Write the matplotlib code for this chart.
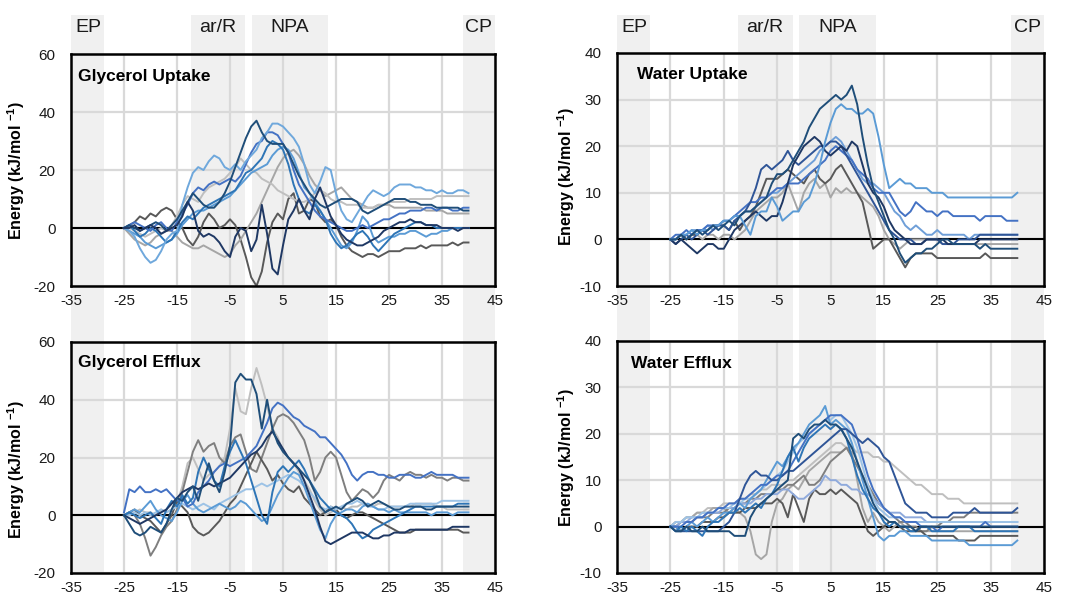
import matplotlib
matplotlib.use("Agg")
import matplotlib.pyplot as plt
import matplotlib.transforms as mtransforms
from matplotlib.patches import Rectangle

# Reaction coordinate (Å) shared by all traces
positions = list(range(-25, 41))

# Channel regions along the pore axis
region_names = ["EP", "ar/R", "NPA", "CP"]
region_spans = [(-35, -28.8), (-12.4, -2.1), (-0.9, 13.5), (38.9, 45)]

# ---------------- Glycerol uptake ----------------
gu_navy = [0, 0, 1, -1, 0, 1, 0, -2, -1, 0, 1,
           4, 9, 6, -1, -3, -2, -3, -5, -8, -10, -3,
           0, -1, -8, -4, 8, -2, -14, -16, -6, 3, 6,
           10, 6, 3, 10, 14, 9, 4, 1, -2, -4, -5,
           -6, -6, -5, -4, -3, -1, 0, 1, 2, 2, 3,
           2, 2, 1, 1, 1, 0, 0, 0, -1, 0, 0]
gu_dkgray = [0, 1, 2, 4, 3, 5, 4, 6, 7, 6, 3,
             0, -4, -6, -3, 2, 5, 3, 0, 1, 3, 1,
             -4, -10, -17, -20, -15, -5, 2, 5, 3, 10, 12,
             5, 6, 10, 9, 4, 2, 3, 1, -3, -6, -8,
             -9, -10, -9, -9, -10, -9, -8, -8, -8, -7, -7,
             -7, -6, -7, -6, -6, -6, -6, -5, -6, -5, -5]
gu_gray = [0, -2, -4, -5, -6, -5, -3, -2, -1, -1, -3,
           -5, -6, -7, -7, -6, -7, -8, -9, -10, -9, -6,
           -4, -1, 2, 5, 9, 13, 17, 21, 24, 26, 27,
           25, 22, 18, 15, 13, 11, 12, 13, 14, 12, 10,
           9, 8, 7, 7, 8, 8, 8, 7, 7, 7, 7,
           7, 7, 6, 6, 6, 6, 5, 5, 5, 5, 5]
gu_ltgray = [0, 0, -1, -2, -3, -2, -1, 0, -1, 1, 4,
             8, 11, 10, 9, 12, 14, 15, 16, 17, 19, 21,
             24, 22, 20, 19, 17, 16, 15, 13, 12, 11, 10,
             9, 9, 10, 12, 13, 12, 10, 9, 9, 8, 8,
             8, 7, 7, 7, 8, 8, 9, 9, 9, 9, 10,
             10, 10, 10, 10, 11, 11, 11, 11, 11, 11, 11]
gu_ltblue = [0, -1, -3, -7, -10, -12, -11, -8, -4, -2, -1,
             8, 14, 19, 21, 20, 23, 25, 24, 21, 20, 22,
             20, 23, 25, 27, 31, 33, 36, 36, 35, 33, 31,
             28, 22, 15, 12, 16, 21, 20, 12, 6, 3, 2,
             5, 8, 11, 13, 12, 11, 12, 14, 15, 15, 15,
             14, 14, 13, 13, 12, 13, 12, 12, 13, 13, 12]
gu_dkblue = [0, 1, 0, -1, 0, 1, 2, 1, -1, 1, 3,
             6, 9, 12, 10, 8, 7, 7, 9, 12, 16, 21,
             26, 31, 35, 37, 33, 30, 29, 29, 29, 26, 22,
             18, 15, 12, 10, 8, 7, 8, 9, 10, 10, 10,
             9, 6, 5, 6, 7, 8, 9, 10, 10, 10, 9,
             9, 8, 8, 8, 7, 7, 7, 7, 7, 6, 6]
gu_blue = [0, 1, 2, 1, 0, -1, 1, 2, 0, -1, 2,
           5, 8, 12, 14, 13, 15, 16, 15, 16, 17, 16,
           18, 22, 26, 29, 30, 33, 33, 32, 29, 26, 20,
           15, 12, 9, 6, 4, 3, 2, 1, 0, -1, -1,
           0, 1, 0, 1, 2, 3, 3, 4, 5, 5, 6,
           6, 6, 7, 7, 6, 7, 7, 6, 6, 7, 7]
gu_midblue = [0, 1, -1, -3, -2, 0, -1, -3, -5, -4, -1,
              2, 4, 3, 5, 7, 8, 9, 10, 11, 12, 13,
              16, 19, 20, 22, 24, 28, 30, 29, 27, 22, 15,
              10, 6, 5, 8, 6, 3, -2, -5, -7, -6, -4,
              -2, -1, -3, -6, -8, -6, -4, -2, -1, 0, 1,
              2, 2, 1, 1, 0, 0, 0, 0, 0, 0, 0]
gu_paleblue = [0, -1, -2, -3, -5, -6, -7, -6, -5, -4, -2,
               1, 3, 5, 6, 6, 7, 8, 9, 10, 11, 13,
               15, 17, 19, 20, 21, 22, 25, 27, 28, 27, 24,
               19, 14, 12, 9, 6, 3, 0, -3, -6, -7, -5,
               -1, 4, 2, -3, -5, -4, -3, -3, -2, -2, -1,
               -1, -2, -3, -2, -2, -1, -1, 0, 0, 0, 0]

# ---------------- Water uptake ----------------
wu_dkblue = [0, 0, 1, 0, 1, 2, 1, 2, 3, 2, 3,
             4, 3, 5, 6, 6, 7, 8, 9, 12, 14, 14,
             15, 17, 19, 21, 24, 26, 28, 29, 30, 31, 30,
             31, 33, 29, 22, 16, 11, 8, 5, 2, 0, -3,
             -5, -4, -3, -3, -2, -2, -1, 0, 0, -1, -1,
             -1, -1, -1, -2, -1, -2, -2, -2, -2, -2, -2]
wu_ltblue = [0, 0, 1, 1, 2, 1, 2, 2, 3, 3, 4,
             4, 5, 5, 3, 1, 5, 6, 6, 9, 7, 4,
             5, 6, 6, 8, 9, 12, 16, 21, 25, 28, 29,
             28, 28, 27, 27, 28, 27, 22, 16, 11, 12, 13,
             12, 12, 11, 11, 11, 10, 10, 10, 9, 9, 9,
             9, 9, 9, 9, 9, 9, 9, 9, 9, 9, 10]
wu_navy2 = [0, -1, 0, 1, 0, 1, 2, 1, 2, 3, 3,
            2, 4, 5, 6, 8, 11, 15, 16, 15, 16, 17,
            19, 17, 16, 17, 18, 19, 20, 20, 21, 21, 20,
            18, 16, 14, 12, 10, 8, 6, 4, 2, 1, 0,
            0, 0, -1, -1, 0, 0, 0, -1, -1, -1, 0,
            0, 0, 0, 1, 1, 1, 1, 1, 1, 1, 1]
wu_navy = [0, -1, 0, -1, -2, -3, -2, -1, -1, -2, -2,
           0, 2, 3, 4, 5, 6, 5, 4, 5, 5, 8,
           12, 16, 18, 20, 21, 22, 21, 19, 18, 19, 20,
           19, 21, 20, 16, 12, 10, 9, 7, 4, 2, 1,
           0, -1, -1, -1, 0, 0, 0, 0, -1, -1, -1,
           -1, -1, -1, 0, 0, 0, 0, 0, 0, 0, 0]
wu_blue = [0, 1, 1, 2, 1, 2, 2, 3, 3, 3, 4,
           4, 5, 6, 7, 8, 8, 9, 9, 10, 11, 11,
           12, 12, 12, 13, 14, 15, 16, 17, 19, 20, 19,
           18, 17, 15, 14, 13, 11, 10, 10, 10, 8, 6,
           5, 6, 8, 7, 6, 6, 5, 6, 6, 5, 5,
           5, 5, 5, 4, 5, 5, 5, 5, 4, 4, 4]
wu_midblue = [0, 0, 1, 1, 2, 2, 2, 3, 2, 3, 4,
              4, 5, 5, 6, 6, 7, 8, 9, 10, 10, 11,
              12, 13, 14, 15, 16, 17, 19, 20, 21, 22, 21,
              19, 17, 15, 13, 12, 12, 11, 10, 8, 6, 5,
              3, 2, 3, 2, 1, 1, 2, 1, 1, 1, 1,
              1, 0, 1, 1, 1, 1, 1, 1, 1, 1, 1]
wu_dkgray = [0, 0, 1, 0, 1, 1, 2, 2, 3, 3, 3,
             2, 4, 2, 4, 5, 7, 10, 13, 13, 13, 14,
             15, 14, 13, 12, 14, 15, 13, 12, 13, 15, 16,
             14, 12, 10, 8, 3, -2, -1, 0, 0, -2, -4,
             -6, -4, -3, -3, -3, -3, -4, -4, -4, -4, -4,
             -4, -4, -4, -4, -3, -4, -4, -4, -4, -4, -4]
wu_gray = [0, 0, 1, 0, 1, 1, 0, 1, 1, 0, 1,
           1, 0, 1, 2, 4, 6, 7, 8, 9, 9, 10,
           12, 9, 6, 10, 12, 13, 11, 12, 9, 11, 10,
           11, 10, 10, 9, 8, 7, 5, 2, 0, -1, -2,
           -1, 0, 0, 0, 0, 0, 0, -1, -1, -1, -1,
           -1, -1, -1, -1, -1, -1, -1, -1, -1, -1, -1]

# ---------------- Glycerol efflux ----------------
ge_blue = [1, 9, 8, 10, 8, 8, 9, 8, 9, 7, 5,
           6, 3, 4, 8, 10, 12, 15, 17, 18, 17, 18,
           19, 20, 22, 24, 28, 32, 37, 39, 38, 36, 34,
           33, 31, 30, 29, 27, 27, 25, 23, 21, 18, 14,
           12, 14, 15, 15, 14, 14, 13, 13, 14, 14, 14,
           13, 13, 14, 15, 14, 14, 14, 14, 13, 13, 13]
ge_gray = [0, 1, 0, -3, -8, -14, -11, -7, -4, -2, 2,
           8, 15, 22, 26, 22, 24, 25, 20, 18, 24, 27,
           28, 22, 16, 15, 20, 25, 30, 34, 35, 34, 32,
           29, 26, 20, 12, 15, 20, 22, 20, 14, 8, 5,
           7, 9, 8, 6, 8, 12, 14, 13, 12, 14, 15,
           14, 14, 13, 14, 13, 13, 12, 13, 13, 12, 12]
ge_dkgray = [0, 1, 2, 0, -1, -2, -4, -6, -3, 0, 5,
             3, 1, -4, -6, -7, -6, -4, -2, 1, 4, 6,
             10, 14, 18, 22, 19, 16, 12, 14, 11, 9, 8,
             10, 6, 4, 2, 0, 1, 3, 2, 0, -1, 0,
             1, 1, 0, -1, -2, -3, -4, -5, -6, -6, -6,
             -5, -5, -5, -5, -5, -5, -5, -5, -5, -6, -6]
ge_ltgray = [0, 0, 1, 2, 1, 1, 0, 2, 1, 2, 4,
             10, 18, 20, 16, 12, 14, 15, 17, 20, 30, 44,
             36, 35, 44, 51, 45, 38, 30, 27, 22, 20, 18,
             15, 12, 9, 5, 2, 0, 1, 2, 3, 2, 3,
             3, 4, 4, 3, 4, 4, 3, 3, 3, 3, 3,
             4, 4, 4, 4, 3, 3, 2, 2, 2, 2, 2]
ge_dkblue = [0, -3, -6, -7, -6, -4, -5, -6, -3, 2, 6,
             5, 8, 10, 5, 12, 18, 12, 8, 15, 24, 46,
             49, 47, 47, 42, 30, 40, 30, 25, 22, 20, 18,
             16, 14, 12, 8, 3, 1, 2, 3, 2, 4, 5,
             6, 5, 3, 4, 5, 4, 3, 2, 2, 3, 3,
             3, 3, 2, 2, 3, 3, 3, 3, 3, 3, 3]
ge_midblue = [0, 1, 0, -1, 0, 1, -1, -3, 2, 5, 3,
              7, 4, 6, 15, 20, 16, 12, 10, 17, 22, 26,
              22, 18, 12, 6, 0, -3, 8, 15, 17, 15, 17,
              19, 16, 12, 9, 6, 4, 2, 1, 0, -1, -3,
              -6, -8, -7, -5, -4, -3, -2, -1, 0, 1, 2,
              3, 3, 3, 3, 3, 3, 3, 3, 4, 4, 4]
ge_navy = [0, -1, -2, -3, -2, -1, 0, 1, 2, 4, 6,
           8, 9, 10, 9, 10, 11, 10, 11, 12, 13, 15,
           17, 19, 21, 22, 24, 27, 29, 26, 23, 20, 18,
           16, 12, 7, 2, -4, -9, -10, -9, -8, -7, -6,
           -6, -6, -7, -8, -8, -7, -7, -6, -6, -6, -5,
           -5, -5, -5, -5, -5, -5, -5, -4, -4, -4, -4]
ge_ltblue = [0, 1, 2, 1, 3, 5, 2, 0, -1, -2, 1,
             5, 7, 4, 2, 1, 2, 3, 4, 3, 2, 3,
             5, 4, 2, 0, -2, -1, 3, 7, 10, 13, 15,
             14, 10, 5, 0, -5, -8, -3, 0, 1, 2, 2,
             1, 3, 4, 3, 2, 2, 1, 2, 1, 1, 1,
             1, 1, 1, 0, 1, 1, 1, 0, 1, 1, 1]
ge_paleblue = [0, 0, 1, 0, 1, 0, 1, 2, 1, 2, 3,
               4, 3, 2, 3, 4, 3, 2, 4, 5, 6, 7,
               8, 9, 9, 10, 11, 10, 11, 12, 13, 14, 13,
               12, 10, 8, 6, 3, 2, 3, 2, 3, 4, 4,
               5, 4, 3, 3, 2, 2, 3, 3, 3, 3, 4,
               4, 4, 4, 4, 4, 5, 5, 5, 5, 5, 5]

# ---------------- Water efflux ----------------
we_ltblue = [0, 0, -1, 0, 1, 0, 1, 2, 1, 2, 3,
             3, 4, 5, 4, 6, 7, 8, 10, 12, 14, 13,
             15, 17, 18, 20, 22, 23, 24, 26, 22, 23, 22,
             21, 18, 14, 10, 6, 2, -2, -3, -2, -2, -1,
             -1, -2, -2, -2, -2, -3, -3, -3, -3, -3, -3,
             -3, -4, -4, -4, -4, -4, -4, -4, -4, -4, -3]
we_blue = [0, 0, 0, 1, 1, 2, 2, 3, 3, 4, 4,
           5, 5, 6, 6, 7, 8, 9, 9, 10, 11, 11,
           12, 14, 16, 18, 20, 21, 22, 23, 24, 24, 24,
           23, 22, 19, 15, 11, 8, 6, 4, 3, 2, 2,
           1, 1, 1, 0, 0, 0, -1, 0, 0, 0, 0,
           0, 0, 0, 0, 1, 0, 0, 0, 0, 0, 0]
we_hump = [0, -1, -1, -1, -1, -1, -1, -1, -1, -1, 0,
           1, 3, 6, 9, 11, 12, 11, 11, 10, 10, 11,
           12, 12, 13, 14, 15, 16, 17, 18, 19, 20, 21,
           21, 20, 19, 18, 19, 18, 17, 15, 14, 11, 8,
           5, 4, 3, 3, 3, 2, 2, 2, 2, 3, 3,
           3, 3, 4, 3, 3, 3, 3, 3, 3, 3, 4]
we_dkblue = [0, -1, -1, 0, -1, -1, 0, -1, -1, -1, -1,
             -1, -2, -2, -2, 2, 4, 5, 6, 7, 8, 9,
             10, 19, 20, 19, 21, 22, 22, 23, 22, 22, 21,
             19, 17, 14, 11, 8, 5, 3, 2, 1, 1, 0,
             0, 0, -1, 0, 0, 0, 0, 0, 0, 0, 0,
             0, 0, 0, 0, 0, 0, 0, 0, 0, 0, 0]
we_ltgray = [0, 1, 1, 2, 2, 3, 3, 4, 4, 4, 5,
             5, 5, 6, 6, 7, 7, 8, 8, 9, 9, 9,
             10, 10, 11, 12, 13, 14, 15, 16, 17, 18, 18,
             17, 17, 16, 16, 16, 15, 15, 14, 14, 13, 12,
             11, 10, 9, 9, 8, 7, 7, 7, 6, 6, 6,
             5, 5, 5, 5, 5, 5, 5, 5, 5, 5, 5]
we_gray = [0, 1, 1, 2, 2, 3, 3, 3, 4, 4, 4,
           3, 4, 3, 2, -1, -6, -7, -6, 1, 5, 6,
           8, 9, 8, 10, 12, 13, 14, 15, 16, 16, 16,
           17, 16, 10, 4, 1, 3, 1, 0, -1, 0, 1,
           0, 0, -1, -1, -1, -1, -1, -1, -1, -1, -1,
           -1, -1, -1, -1, -1, -1, -1, -1, -1, -1, -1]
we_dkgray = [0, 0, -1, 0, 0, 0, 1, 1, 1, 2, 2,
             3, 3, 3, 4, 4, 4, 5, 5, 5, 6, 5,
             2, 7, 4, 1, 6, 8, 7, 7, 8, 7, 8,
             7, 6, 5, 2, -1, -2, -1, 0, 1, 1, 0,
             -1, -1, -1, -1, -2, -2, -2, -2, -2, -2, -3,
             -3, -3, -3, -2, -2, -2, -2, -2, -2, -2, -2]
we_midgray = [0, 0, 1, 1, 1, 2, 2, 2, 3, 3, 3,
              4, 4, 5, 5, 6, 6, 7, 7, 7, 8, 8,
              9, 9, 10, 11, 9, 9, 10, 12, 14, 15, 16,
              17, 15, 13, 11, 9, 7, 5, 4, 3, 2, 1,
              1, 0, 0, -1, -1, 0, 0, 1, 1, 2, 2,
              2, 3, 3, 3, 3, 3, 3, 3, 3, 3, 3]
we_softblue = [0, 0, 1, 1, 2, 2, 2, 3, 3, 3, 4,
               4, 4, 5, 5, 5, 6, 6, 7, 7, 7, 8,
               8, 7, 6, 6, 7, 8, 9, 11, 10, 10, 9,
               9, 8, 8, 7, 7, 6, 5, 4, 3, 3, 3,
               2, 2, 2, 2, 1, 1, 1, 1, 1, 1, 1,
               1, 1, 1, 1, 1, 1, 1, 1, 1, 1, 1]
we_paleblue = [0, 1, 1, 2, 2, 2, 3, 3, 3, 4, 4,
               4, 5, 5, 6, 6, 7, 8, 9, 10, 11, 12,
               14, 16, 18, 19, 20, 21, 22, 23, 23, 24, 24,
               22, 20, 17, 13, 9, 6, 4, 3, 2, 2, 2,
               1, 1, 1, 1, 1, 1, 1, 1, 1, 1, 1,
               1, 1, 1, 1, 1, 1, 1, 1, 1, 1, 1]
we_midblue = [0, -1, 0, -1, 0, -1, -2, 0, 1, 1, 2,
              3, 3, 4, 3, 4, 5, 4, 6, 7, 9, 12,
              15, 17, 14, 17, 19, 20, 21, 22, 21, 22, 21,
              19, 15, 11, 8, 6, 4, 3, 1, 0, 1, 0,
              0, -1, -1, 0, 0, -1, -1, -1, -1, -1, 0,
              0, 0, -1, -1, -1, -1, -1, -1, -1, -1, -1]

NAVY = "#1f3864"
DKBLUE = "#1f4e79"
BLUE = "#2f5597"
MIDBLUE = "#2e75b6"
MEDBLUE = "#4472c4"
LTBLUE = "#5b9bd5"
SOFTBLUE = "#8faadc"
PALEBLUE = "#9dc3e6"
DKGRAY = "#595959"
GRAY = "#7f7f7f"
LTGRAY = "#a6a6a6"
PALEGRAY = "#bfbfbf"

panels = [
    dict(title="Glycerol Uptake", ylim=(-20, 60), ystep=20,
         rect=(71, 54, 495, 286), title_xy=(78, 77), ylabel_y=0.50,
         series=[(gu_dkgray, DKGRAY), (gu_gray, LTGRAY), (gu_ltgray, PALEGRAY),
                 (gu_paleblue, LTBLUE), (gu_midblue, MIDBLUE), (gu_blue, MEDBLUE),
                 (gu_ltblue, "#6fa8dc"), (gu_dkblue, DKBLUE), (gu_navy, NAVY)]),
    dict(title="Water Uptake", ylim=(-10, 40), ystep=10,
         rect=(617, 53, 1044, 286), title_xy=(637, 74), ylabel_y=0.47,
         series=[(wu_gray, LTGRAY), (wu_dkgray, DKGRAY), (wu_midblue, "#6f9fd8"),
                 (wu_blue, MEDBLUE), (wu_navy2, BLUE), (wu_navy, NAVY),
                 (wu_ltblue, LTBLUE), (wu_dkblue, DKBLUE)]),
    dict(title="Glycerol Efflux", ylim=(-20, 60), ystep=20,
         rect=(71, 342, 495, 573), title_xy=(78, 363), ylabel_y=0.45,
         series=[(ge_ltgray, PALEGRAY), (ge_gray, GRAY), (ge_dkgray, DKGRAY),
                 (ge_paleblue, PALEBLUE), (ge_ltblue, LTBLUE), (ge_blue, MEDBLUE),
                 (ge_midblue, MIDBLUE), (ge_navy, NAVY), (ge_dkblue, DKBLUE)]),
    dict(title="Water Efflux", ylim=(-10, 40), ystep=10,
         rect=(617, 341, 1044, 573), title_xy=(631, 363), ylabel_y=0.50,
         series=[(we_ltgray, PALEGRAY), (we_gray, LTGRAY), (we_midgray, GRAY),
                 (we_dkgray, DKGRAY), (we_softblue, SOFTBLUE), (we_paleblue, PALEBLUE),
                 (we_ltblue, LTBLUE), (we_blue, MEDBLUE), (we_hump, BLUE),
                 (we_midblue, MIDBLUE), (we_dkblue, DKBLUE)]),
]

base_font = "Liberation Sans"
plt.rcParams["font.family"] = [base_font, "DejaVu Sans"]
plt.rcParams["axes.unicode_minus"] = False
plt.rcParams["mathtext.fontset"] = "custom"
plt.rcParams["mathtext.rm"] = base_font
plt.rcParams["mathtext.bf"] = base_font + ":bold"

W, H = 1067, 600
fig = plt.figure(figsize=(W / 100, H / 100), dpi=100)

BAND = "#f0f0f0"
GRID = "#d9d9d9"

# Background layer for the shaded regions, which run through both panels of a column
bg = fig.add_axes([0, 0, 1, 1], zorder=-10)
bg.set_xlim(0, 1)
bg.set_ylim(0, 1)
bg.axis("off")

for i, p in enumerate(panels):
    x0, y0, x1, y1 = p["rect"]
    ax = fig.add_axes([x0 / W, 1 - y1 / H, (x1 - x0) / W, (y1 - y0) / H])
    ax.set_xlim(-35, 45)
    ax.set_ylim(*p["ylim"])
    ax.set_facecolor("none")

    if i < 2:
        # column of shaded regions from the region labels down to the lower panel
        low_rect = panels[i + 2]["rect"]
        band_top = 1 - 15 / H
        band_bot = 1 - low_rect[3] / H
        trans = mtransforms.blended_transform_factory(ax.transData, fig.transFigure)
        for (a, b) in region_spans:
            bg.add_patch(Rectangle((a, band_bot), b - a, band_top - band_bot,
                                   transform=trans, facecolor=BAND, edgecolor="none"))
        label_y = 1 - 28 / H
        for name, (a, b) in zip(region_names, region_spans):
            if name == "EP":
                x, ha = a + 0.8, "left"
            elif name == "CP":
                x, ha = b - 0.6, "right"
            else:
                x, ha = (a + b) / 2, "center"
            bg.text(x, label_y, name, transform=trans, ha=ha, va="center",
                    fontsize=14, color="#1a1a1a")

    ax.set_xticks(range(-35, 46, 10))
    lo, hi = p["ylim"]
    ax.set_yticks(range(lo, hi + 1, p["ystep"]))
    ax.grid(True, color=GRID, linewidth=1.6, zorder=1)
    ax.set_axisbelow(True)
    ax.tick_params(length=0, labelsize=11, colors="#1a1a1a")
    ax.tick_params(axis="y", pad=11)
    ax.tick_params(axis="x", pad=6)

    ax.axhline(0, color="black", linewidth=1.5, zorder=2)
    for values, color in p["series"]:
        if len(values) != len(positions):
            raise ValueError("series length mismatch")
        ax.plot(positions, values, color=color, linewidth=1.4, zorder=3,
                solid_joinstyle="round")

    for s in ax.spines.values():
        s.set_linewidth(1.8)
        s.set_color("black")
        s.set_zorder(5)

    ax.set_ylabel(r"Energy (kJ/mol $^{\mathbf{-1}}$)", fontsize=11.5,
                  fontweight="bold", color="black")
    gap = 44 if i % 2 == 0 else 40
    ax.yaxis.set_label_coords(-gap / (x1 - x0), p["ylabel_y"])

    tx, ty = p["title_xy"]
    fig.text(tx / W, 1 - ty / H, p["title"], ha="left", va="center",
             fontsize=12.5, fontweight="bold", color="black")

fig.savefig("out.png", dpi=100, facecolor="white")
